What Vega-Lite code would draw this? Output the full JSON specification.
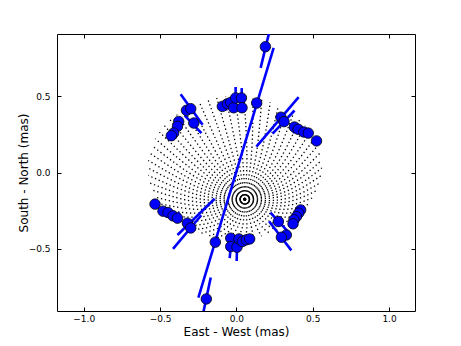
{
"$schema": "https://vega.github.io/schema/vega-lite/v6.json",
"width": 358, "height": 277,
"autosize": "none",
"padding": {"left": 57, "top": 34, "right": 46, "bottom": 35},
"background": "white",
"config": {"view": {"stroke": "black", "strokeWidth": 1}, "font": "DejaVu Sans"},
"datasets": {
"grid": [
{"g":0,"o":0,"x":0.055,"y":-0.175},{"g":0,"o":1,"x":0.324,"y":-0.124},{"g":0,"o":2,"x":0.560,"y":0.030},
{"g":1,"o":0,"x":0.055,"y":-0.175},{"g":1,"o":1,"x":0.322,"y":-0.099},{"g":1,"o":2,"x":0.557,"y":0.079},
{"g":2,"o":0,"x":0.055,"y":-0.175},{"g":2,"o":1,"x":0.318,"y":-0.075},{"g":2,"o":2,"x":0.548,"y":0.128},
{"g":3,"o":0,"x":0.055,"y":-0.175},{"g":3,"o":1,"x":0.310,"y":-0.051},{"g":3,"o":2,"x":0.532,"y":0.175},
{"g":4,"o":0,"x":0.055,"y":-0.175},{"g":4,"o":1,"x":0.299,"y":-0.028},{"g":4,"o":2,"x":0.511,"y":0.221},
{"g":5,"o":0,"x":0.055,"y":-0.175},{"g":5,"o":1,"x":0.286,"y":-0.006},{"g":5,"o":2,"x":0.484,"y":0.265},
{"g":6,"o":0,"x":0.055,"y":-0.175},{"g":6,"o":1,"x":0.269,"y":0.014},{"g":6,"o":2,"x":0.451,"y":0.306},
{"g":7,"o":0,"x":0.055,"y":-0.175},{"g":7,"o":1,"x":0.251,"y":0.033},{"g":7,"o":2,"x":0.414,"y":0.345},
{"g":8,"o":0,"x":0.055,"y":-0.175},{"g":8,"o":1,"x":0.230,"y":0.051},{"g":8,"o":2,"x":0.371,"y":0.379},
{"g":9,"o":0,"x":0.055,"y":-0.175},{"g":9,"o":1,"x":0.206,"y":0.066},{"g":9,"o":2,"x":0.325,"y":0.410},
{"g":10,"o":0,"x":0.055,"y":-0.175},{"g":10,"o":1,"x":0.181,"y":0.080},{"g":10,"o":2,"x":0.275,"y":0.437},
{"g":11,"o":0,"x":0.055,"y":-0.175},{"g":11,"o":1,"x":0.155,"y":0.091},{"g":11,"o":2,"x":0.222,"y":0.459},
{"g":12,"o":0,"x":0.055,"y":-0.175},{"g":12,"o":1,"x":0.127,"y":0.100},{"g":12,"o":2,"x":0.166,"y":0.477},
{"g":13,"o":0,"x":0.055,"y":-0.175},{"g":13,"o":1,"x":0.098,"y":0.106},{"g":13,"o":2,"x":0.109,"y":0.490},
{"g":14,"o":0,"x":0.055,"y":-0.175},{"g":14,"o":1,"x":0.069,"y":0.110},{"g":14,"o":2,"x":0.050,"y":0.497},
{"g":15,"o":0,"x":0.055,"y":-0.175},{"g":15,"o":1,"x":0.039,"y":0.111},{"g":15,"o":2,"x":-0.010,"y":0.500},
{"g":16,"o":0,"x":0.055,"y":-0.175},{"g":16,"o":1,"x":0.009,"y":0.110},{"g":16,"o":2,"x":-0.070,"y":0.497},
{"g":17,"o":0,"x":0.055,"y":-0.175},{"g":17,"o":1,"x":-0.021,"y":0.106},{"g":17,"o":2,"x":-0.129,"y":0.490},
{"g":18,"o":0,"x":0.055,"y":-0.175},{"g":18,"o":1,"x":-0.049,"y":0.100},{"g":18,"o":2,"x":-0.186,"y":0.477},
{"g":19,"o":0,"x":0.055,"y":-0.175},{"g":19,"o":1,"x":-0.077,"y":0.091},{"g":19,"o":2,"x":-0.242,"y":0.459},
{"g":20,"o":0,"x":0.055,"y":-0.175},{"g":20,"o":1,"x":-0.104,"y":0.080},{"g":20,"o":2,"x":-0.295,"y":0.437},
{"g":21,"o":0,"x":0.055,"y":-0.175},{"g":21,"o":1,"x":-0.129,"y":0.066},{"g":21,"o":2,"x":-0.345,"y":0.410},
{"g":22,"o":0,"x":0.055,"y":-0.175},{"g":22,"o":1,"x":-0.152,"y":0.051},{"g":22,"o":2,"x":-0.391,"y":0.379},
{"g":23,"o":0,"x":0.055,"y":-0.175},{"g":23,"o":1,"x":-0.173,"y":0.033},{"g":23,"o":2,"x":-0.434,"y":0.345},
{"g":24,"o":0,"x":0.055,"y":-0.175},{"g":24,"o":1,"x":-0.192,"y":0.014},{"g":24,"o":2,"x":-0.471,"y":0.306},
{"g":25,"o":0,"x":0.055,"y":-0.175},{"g":25,"o":1,"x":-0.208,"y":-0.006},{"g":25,"o":2,"x":-0.504,"y":0.265},
{"g":26,"o":0,"x":0.055,"y":-0.175},{"g":26,"o":1,"x":-0.222,"y":-0.028},{"g":26,"o":2,"x":-0.531,"y":0.221},
{"g":27,"o":0,"x":0.055,"y":-0.175},{"g":27,"o":1,"x":-0.232,"y":-0.051},{"g":27,"o":2,"x":-0.552,"y":0.175},
{"g":28,"o":0,"x":0.055,"y":-0.175},{"g":28,"o":1,"x":-0.240,"y":-0.075},{"g":28,"o":2,"x":-0.568,"y":0.128},
{"g":29,"o":0,"x":0.055,"y":-0.175},{"g":29,"o":1,"x":-0.245,"y":-0.099},{"g":29,"o":2,"x":-0.577,"y":0.079},
{"g":30,"o":0,"x":0.055,"y":-0.175},{"g":30,"o":1,"x":-0.246,"y":-0.124},{"g":30,"o":2,"x":-0.580,"y":0.030},
{"g":31,"o":0,"x":0.055,"y":-0.175},{"g":31,"o":1,"x":-0.245,"y":-0.148},{"g":31,"o":2,"x":-0.577,"y":-0.019},
{"g":32,"o":0,"x":0.055,"y":-0.175},{"g":32,"o":1,"x":-0.240,"y":-0.173},{"g":32,"o":2,"x":-0.568,"y":-0.068},
{"g":33,"o":0,"x":0.055,"y":-0.175},{"g":33,"o":1,"x":-0.232,"y":-0.196},{"g":33,"o":2,"x":-0.552,"y":-0.115},
{"g":34,"o":0,"x":0.055,"y":-0.175},{"g":34,"o":1,"x":-0.222,"y":-0.219},{"g":34,"o":2,"x":-0.531,"y":-0.161},
{"g":35,"o":0,"x":0.055,"y":-0.175},{"g":35,"o":1,"x":-0.208,"y":-0.241},{"g":35,"o":2,"x":-0.504,"y":-0.205},
{"g":36,"o":0,"x":0.055,"y":-0.175},{"g":36,"o":1,"x":-0.192,"y":-0.262},{"g":36,"o":2,"x":-0.471,"y":-0.246},
{"g":37,"o":0,"x":0.055,"y":-0.175},{"g":37,"o":1,"x":-0.173,"y":-0.281},{"g":37,"o":2,"x":-0.434,"y":-0.285},
{"g":38,"o":0,"x":0.055,"y":-0.175},{"g":38,"o":1,"x":-0.152,"y":-0.298},{"g":38,"o":2,"x":-0.391,"y":-0.319},
{"g":39,"o":0,"x":0.055,"y":-0.175},{"g":39,"o":1,"x":-0.129,"y":-0.314},{"g":39,"o":2,"x":-0.345,"y":-0.350},
{"g":40,"o":0,"x":0.055,"y":-0.175},{"g":40,"o":1,"x":-0.104,"y":-0.327},{"g":40,"o":2,"x":-0.295,"y":-0.377},
{"g":41,"o":0,"x":0.055,"y":-0.175},{"g":41,"o":1,"x":-0.077,"y":-0.339},{"g":41,"o":2,"x":-0.242,"y":-0.399},
{"g":42,"o":0,"x":0.055,"y":-0.175},{"g":42,"o":1,"x":-0.049,"y":-0.347},{"g":42,"o":2,"x":-0.186,"y":-0.417},
{"g":43,"o":0,"x":0.055,"y":-0.175},{"g":43,"o":1,"x":-0.021,"y":-0.354},{"g":43,"o":2,"x":-0.129,"y":-0.430},
{"g":44,"o":0,"x":0.055,"y":-0.175},{"g":44,"o":1,"x":0.009,"y":-0.357},{"g":44,"o":2,"x":-0.070,"y":-0.437},
{"g":45,"o":0,"x":0.055,"y":-0.175},{"g":45,"o":1,"x":0.039,"y":-0.359},{"g":45,"o":2,"x":-0.010,"y":-0.440},
{"g":46,"o":0,"x":0.055,"y":-0.175},{"g":46,"o":1,"x":0.069,"y":-0.357},{"g":46,"o":2,"x":0.050,"y":-0.437},
{"g":47,"o":0,"x":0.055,"y":-0.175},{"g":47,"o":1,"x":0.098,"y":-0.354},{"g":47,"o":2,"x":0.109,"y":-0.430},
{"g":48,"o":0,"x":0.055,"y":-0.175},{"g":48,"o":1,"x":0.127,"y":-0.347},{"g":48,"o":2,"x":0.166,"y":-0.417},
{"g":49,"o":0,"x":0.055,"y":-0.175},{"g":49,"o":1,"x":0.155,"y":-0.339},{"g":49,"o":2,"x":0.222,"y":-0.399},
{"g":50,"o":0,"x":0.055,"y":-0.175},{"g":50,"o":1,"x":0.181,"y":-0.327},{"g":50,"o":2,"x":0.275,"y":-0.377},
{"g":51,"o":0,"x":0.055,"y":-0.175},{"g":51,"o":1,"x":0.206,"y":-0.314},{"g":51,"o":2,"x":0.325,"y":-0.350},
{"g":52,"o":0,"x":0.055,"y":-0.175},{"g":52,"o":1,"x":0.230,"y":-0.298},{"g":52,"o":2,"x":0.371,"y":-0.319},
{"g":53,"o":0,"x":0.055,"y":-0.175},{"g":53,"o":1,"x":0.251,"y":-0.281},{"g":53,"o":2,"x":0.414,"y":-0.285},
{"g":54,"o":0,"x":0.055,"y":-0.175},{"g":54,"o":1,"x":0.269,"y":-0.262},{"g":54,"o":2,"x":0.451,"y":-0.246},
{"g":55,"o":0,"x":0.055,"y":-0.175},{"g":55,"o":1,"x":0.286,"y":-0.241},{"g":55,"o":2,"x":0.484,"y":-0.205},
{"g":56,"o":0,"x":0.055,"y":-0.175},{"g":56,"o":1,"x":0.299,"y":-0.219},{"g":56,"o":2,"x":0.511,"y":-0.161},
{"g":57,"o":0,"x":0.055,"y":-0.175},{"g":57,"o":1,"x":0.310,"y":-0.196},{"g":57,"o":2,"x":0.532,"y":-0.115},
{"g":58,"o":0,"x":0.055,"y":-0.175},{"g":58,"o":1,"x":0.318,"y":-0.173},{"g":58,"o":2,"x":0.548,"y":-0.068},
{"g":59,"o":0,"x":0.055,"y":-0.175},{"g":59,"o":1,"x":0.322,"y":-0.148},{"g":59,"o":2,"x":0.557,"y":-0.019}
],
"seg": [
{"x":0.244,"y":0.816,"x2":-0.249,"y2":-0.819},
{"x":0.159,"y":0.685,"x2":0.23,"y2":0.98},
{"x":-0.168,"y":-0.688,"x2":-0.23,"y2":-0.98},
{"x":-0.365,"y":0.513,"x2":-0.221,"y2":0.313},
{"x":-0.339,"y":0.374,"x2":-0.229,"y2":0.258},
{"x":0.131,"y":0.170,"x2":0.408,"y2":0.494},
{"x":0.237,"y":0.255,"x2":0.381,"y2":0.406},
{"x":-0.386,"y":-0.409,"x2":-0.142,"y2":-0.172},
{"x":-0.415,"y":-0.500,"x2":-0.23,"y2":-0.28},
{"x":0.223,"y":-0.262,"x2":0.35,"y2":-0.40},
{"x":0.215,"y":-0.321,"x2":0.36,"y2":-0.51},
{"x":-0.005,"y":0.56,"x2":-0.005,"y2":0.477},
{"x":0.035,"y":0.553,"x2":0.035,"y2":0.477},
{"x":-0.044,"y":-0.56,"x2":-0.037,"y2":-0.49},
{"x":0.002,"y":-0.58,"x2":0.004,"y2":-0.49},
{"x":0.371,"y":0.258,"x2":0.426,"y2":0.306},
{"x":-0.426,"y":-0.31,"x2":-0.371,"y2":-0.262},
{"x":-0.077,"y":0.476,"x2":-0.066,"y2":0.405}
],
"pts": [
{"x":-0.092,"y":0.433},{"x":-0.059,"y":0.450},{"x":-0.037,"y":0.459},{"x":-0.018,"y":0.424},{"x":-0.005,"y":0.488},{"x":0.033,"y":0.488},{"x":0.037,"y":0.424},
{"x":-0.327,"y":0.407},{"x":-0.299,"y":0.418},{"x":-0.279,"y":0.324},
{"x":-0.378,"y":0.334},{"x":-0.386,"y":0.302},{"x":-0.411,"y":0.258},{"x":-0.426,"y":0.241},
{"x":0.292,"y":0.362},{"x":0.312,"y":0.333},
{"x":0.380,"y":0.298},{"x":0.405,"y":0.283},{"x":0.442,"y":0.265},{"x":0.471,"y":0.258},{"x":0.525,"y":0.207},
{"x":-0.533,"y":-0.207},{"x":-0.481,"y":-0.253},{"x":-0.448,"y":-0.262},{"x":-0.415,"y":-0.284},{"x":-0.386,"y":-0.299},
{"x":-0.321,"y":-0.332},{"x":-0.299,"y":-0.363},
{"x":-0.037,"y":-0.430},{"x":-0.037,"y":-0.485},{"x":0.004,"y":-0.489},{"x":0.017,"y":-0.435},{"x":0.039,"y":-0.452},{"x":0.065,"y":-0.441},{"x":0.087,"y":-0.435},
{"x":0.421,"y":-0.245},{"x":0.408,"y":-0.266},{"x":0.393,"y":-0.289},{"x":0.377,"y":-0.310},{"x":0.371,"y":-0.336},
{"x":0.275,"y":-0.321},{"x":0.327,"y":-0.409},{"x":0.295,"y":-0.424},
{"x":0.133,"y":0.455},{"x":-0.138,"y":-0.456},
{"x":0.19,"y":0.824},{"x":-0.197,"y":-0.828}
]
},
"layer": [
{
"data": {"name": "grid"},
"mark": {"type": "line", "interpolate": "natural", "strokeDash": [1.3, 2.7], "strokeWidth": 1.3, "color": "black", "clip": true},
"encoding": {
"x": {"field": "x", "type": "quantitative", "scale": {"domain": [-1.175, 1.17], "nice": false, "zero": false},
"axis": {"orient": "bottom", "values": [-1, -0.5, 0, 0.5, 1], "format": ".1f", "title": "East - West (mas)", "domain": false, "grid": false, "tickSize": -4, "tickColor": "black", "labelPadding": 7, "labelFontSize": 9, "labelColor": "black", "labelFont": "DejaVu Sans", "titleFont": "DejaVu Sans", "titleFontSize": 12, "titleFontWeight": "normal", "titleColor": "black", "titleBaseline": "middle", "titleX": 179, "titleY": 20}},
"y": {"field": "y", "type": "quantitative", "scale": {"domain": [-0.907, 0.907], "nice": false, "zero": false},
"axis": {"orient": "left", "values": [-0.5, 0, 0.5], "format": ".1f", "title": "South - North (mas)", "domain": false, "grid": false, "tickSize": -4, "tickColor": "black", "labelPadding": 11, "labelFontSize": 9, "labelColor": "black", "labelFont": "DejaVu Sans", "titleFont": "DejaVu Sans", "titleFontSize": 12, "titleFontWeight": "normal", "titleColor": "black", "titleBaseline": "middle", "titleX": -34, "titleY": 138.5}},
"detail": {"field": "g", "type": "nominal"},
"order": {"field": "o", "type": "quantitative"}
}
},
{
"data": {"name": "seg"},
"mark": {"type": "rule", "color": "#0000ff", "strokeWidth": 2.6, "clip": true},
"encoding": {
"x": {"field": "x", "type": "quantitative", "scale": {"domain": [-1.175, 1.17], "nice": false, "zero": false},
"axis": {"orient": "top", "values": [-1, -0.5, 0, 0.5, 1], "labels": false, "title": null, "domain": false, "grid": false, "tickSize": -4, "tickColor": "black"}},
"y": {"field": "y", "type": "quantitative", "scale": {"domain": [-0.907, 0.907], "nice": false, "zero": false},
"axis": {"orient": "right", "values": [-0.5, 0, 0.5], "labels": false, "title": null, "domain": false, "grid": false, "tickSize": -4, "tickColor": "black"}},
"x2": {"field": "x2"},
"y2": {"field": "y2"}
}
},
{
"data": {"name": "pts"},
"mark": {"type": "circle", "size": 110, "fill": "#0000ff", "opacity": 1, "stroke": "black", "strokeWidth": 0.8},
"encoding": {
"x": {"field": "x", "type": "quantitative", "scale": {"domain": [-1.175, 1.17], "nice": false, "zero": false}, "axis": null},
"y": {"field": "y", "type": "quantitative", "scale": {"domain": [-0.907, 0.907], "nice": false, "zero": false}, "axis": null}
}
}
],
"resolve": {"axis": {"x": "independent", "y": "independent"}}
}
